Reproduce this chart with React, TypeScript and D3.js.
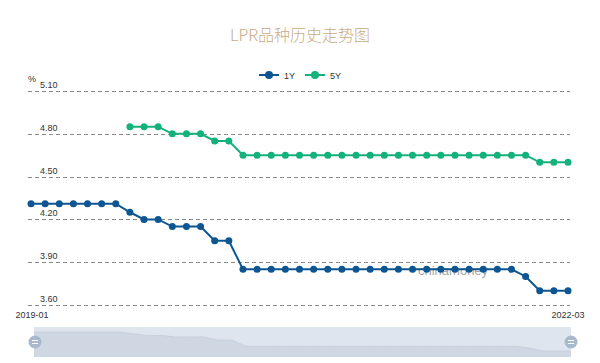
import React from "react";
import * as d3 from "d3";

const months: string[] = [];
for (let y = 2019; y <= 2022; y++) {
  for (let m = 1; m <= 12; m++) {
    if (y === 2022 && m > 3) break;
    months.push(`${y}-${String(m).padStart(2, "0")}`);
  }
}

const lpr1Y: number[] = [
  4.31, 4.31, 4.31, 4.31, 4.31, 4.31, 4.31, 4.25, 4.2, 4.2, 4.15, 4.15,
  4.15, 4.05, 4.05, 3.85, 3.85, 3.85, 3.85, 3.85, 3.85, 3.85, 3.85, 3.85,
  3.85, 3.85, 3.85, 3.85, 3.85, 3.85, 3.85, 3.85, 3.85, 3.85, 3.85, 3.8,
  3.7, 3.7, 3.7,
];
const lpr5Y: (number | null)[] = [
  null, null, null, null, null, null, null, 4.85, 4.85, 4.85, 4.8, 4.8,
  4.8, 4.75, 4.75, 4.65, 4.65, 4.65, 4.65, 4.65, 4.65, 4.65, 4.65, 4.65,
  4.65, 4.65, 4.65, 4.65, 4.65, 4.65, 4.65, 4.65, 4.65, 4.65, 4.65, 4.65,
  4.6, 4.6, 4.6,
];
const yTicks: number[] = [3.6, 3.9, 4.2, 4.5, 4.8, 5.1];
const xLabels: string[] = ["2019-01", "2022-03"];

const C1 = "#0d5692";
const C5 = "#13b27b";
const FONT = "'Liberation Sans', Arial, sans-serif";

export default function App() {
  const W = 600, H = 363;
  const x = d3.scaleLinear().domain([0, months.length - 1]).range([31, 568]);
  const y = d3.scaleLinear().domain([3.6, 5.1]).range([305, 91]);
  const line = d3
    .line<number | null>()
    .defined((d) => d !== null)
    .x((_, i) => x(i))
    .y((d) => y(d as number));

  const sx = d3.scaleLinear().domain([0, months.length - 1]).range([34, 571]);
  const sy = d3.scaleLinear().domain([3.7, 4.31]).range([351, 332]);
  const shadowLine = d3.line<number>().x((_, i) => sx(i)).y((d) => sy(d));
  const shadowArea = d3
    .area<number>()
    .x((_, i) => sx(i))
    .y0(357)
    .y1((d) => sy(d));

  const pts5 = lpr5Y.map((v, i) => ({ v, i })).filter((p) => p.v !== null);

  return (
    <svg
      width={W}
      height={H}
      style={{ position: "absolute", left: 0, top: 0, background: "#fff" }}
      fontFamily={FONT}
    >
      <text
        x={300}
        y={41}
        textAnchor="middle"
        fontSize={16}
        fill="#c9ab86"
        fontFamily="'Noto Sans CJK SC', sans-serif"
        fontWeight={300}
      >
        LPR品种历史走势图
      </text>

      {/* legend */}
      <g>
        <line x1={259} x2={279} y1={75} y2={75} stroke={C1} strokeWidth={2} />
        <circle cx={269} cy={75} r={4} fill={C1} />
        <text x={284} y={78.5} fontSize={9} fill="#333">1Y</text>
        <line x1={305} x2={325} y1={75} y2={75} stroke={C5} strokeWidth={2} />
        <circle cx={315} cy={75} r={4} fill={C5} />
        <text x={330} y={78.5} fontSize={9} fill="#333">5Y</text>
      </g>

      {/* grid */}
      {yTicks.map((t) => (
        <g key={t}>
          <line
            x1={28}
            x2={570}
            y1={Math.round(y(t)) + 0.5}
            y2={Math.round(y(t)) + 0.5}
            stroke="#888"
            strokeDasharray="4,3"
            strokeWidth={1}
          />
          <text x={40} y={y(t) - 3} fontSize={9} fill="#333">
            {t.toFixed(2)}
          </text>
        </g>
      ))}
      <text x={28} y={82} fontSize={9} fill="#333">%</text>

      {/* watermark */}
      <text x={418} y={275} fontSize={13} fill="#8a8a8a" opacity={0.75}>
        chinamoney
      </text>

      {/* series */}
      <path d={line(lpr5Y) || ""} fill="none" stroke={C5} strokeWidth={2} />
      {pts5.map((p) => (
        <circle key={p.i} cx={x(p.i)} cy={y(p.v as number)} r={3.5} fill={C5} />
      ))}
      <path d={line(lpr1Y) || ""} fill="none" stroke={C1} strokeWidth={2} />
      {lpr1Y.map((v, i) => (
        <circle key={i} cx={x(i)} cy={y(v)} r={3.5} fill={C1} />
      ))}

      {/* x labels */}
      <text x={32} y={318} fontSize={9} fill="#333" textAnchor="middle">
        {xLabels[0]}
      </text>
      <text x={568} y={318} fontSize={9} fill="#333" textAnchor="middle">
        {xLabels[1]}
      </text>

      {/* data zoom */}
      <rect x={34} y={327} width={537} height={30} fill="#dfe5ee" />
      <path d={shadowArea(lpr1Y) || ""} fill="#cfd7e2" />
      <path d={shadowLine(lpr1Y) || ""} fill="none" stroke="#c8d0dc" strokeWidth={1} />
      {[35, 571].map((cx) => (
        <g key={cx}>
          <circle cx={cx} cy={342} r={6.5} fill="#a9b9cd" />
          <line x1={cx - 3} x2={cx + 3} y1={340.5} y2={340.5} stroke="#fff" strokeWidth={1} />
          <line x1={cx - 3} x2={cx + 3} y1={343.5} y2={343.5} stroke="#fff" strokeWidth={1} />
        </g>
      ))}
    </svg>
  );
}
